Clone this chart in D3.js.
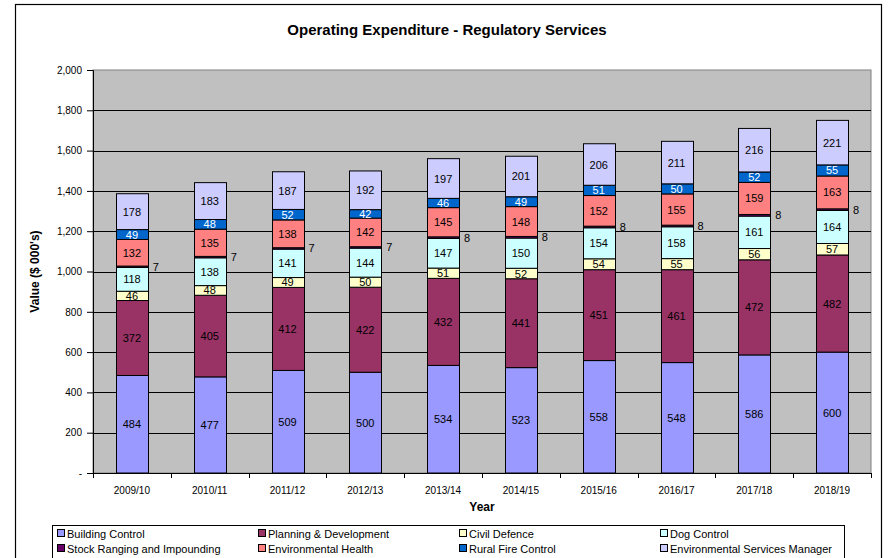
<!DOCTYPE html>
<html>
<head>
<meta charset="utf-8">
<script src="https://cdn.jsdelivr.net/npm/d3@7"></script>
<style>
  body { margin: 0; background: #fff; }
  svg text { font-family: "Liberation Sans", Arial, sans-serif; }
</style>
</head>
<body>
<div id="chart"></div>
<script>
const years = ["2009/10", "2010/11", "2011/12", "2012/13", "2013/14",
  "2014/15", "2015/16", "2016/17", "2017/18", "2018/19"];

const seriesNames = [
  "Building Control", "Planning & Development", "Civil Defence", "Dog Control",
  "Stock Ranging and Impounding", "Environmental Health", "Rural Fire Control",
  "Environmental Services Manager"
];

const buildingControl = [484, 477, 509, 500, 534, 523, 558, 548, 586, 600];
const planningDev = [372, 405, 412, 422, 432, 441, 451, 461, 472, 482];
const civilDefence = [46, 48, 49, 50, 51, 52, 54, 55, 56, 57];
const dogControl = [118, 138, 141, 144, 147, 150, 154, 158, 161, 164];
const stockRanging = [7, 7, 7, 7, 8, 8, 8, 8, 8, 8];
const envHealth = [132, 135, 138, 142, 145, 148, 152, 155, 159, 163];
const ruralFire = [49, 48, 52, 42, 46, 49, 51, 50, 52, 55];
const envManager = [178, 183, 187, 192, 197, 201, 206, 211, 216, 221];

const yTicks = [0, 200, 400, 600, 800, 1000, 1200, 1400, 1600, 1800, 2000];

const seriesValues = [buildingControl, planningDev, civilDefence, dogControl,
  stockRanging, envHealth, ruralFire, envManager];
const colors = ["#9999FF", "#993366", "#FFFFCC", "#CCFFFF",
  "#660066", "#FF8080", "#0066CC", "#CCCCFF"];
const labelColors = ["#000", "#000", "#000", "#000", "#000", "#000", "#fff", "#000"];

// build rows for d3.stack
const table = years.map((yr, i) => {
  const row = { year: yr };
  seriesNames.forEach((s, j) => { row[s] = seriesValues[j][i]; });
  return row;
});

const W = 888, H = 558;
const plot = { left: 93, right: 871, top: 70, bottom: 473 };

const svg = d3.select("#chart").append("svg")
  .attr("width", W).attr("height", H);

// outer chart border
svg.append("rect")
  .attr("x", 15.5).attr("y", 4.5)
  .attr("width", 866).attr("height", 570)
  .attr("fill", "#fff").attr("stroke", "#000").attr("stroke-width", 1.2);

svg.append("text")
  .attr("x", 447).attr("y", 35)
  .attr("text-anchor", "middle")
  .style("font-size", "15px").style("font-weight", "bold")
  .text("Operating Expenditure - Regulatory Services");

const x = d3.scaleBand().domain(years)
  .range([plot.left, plot.right]).paddingInner(0.59).paddingOuter(0.295);
const y = d3.scaleLinear().domain([0, 2000]).range([plot.bottom, plot.top]);

// plot background
svg.append("rect")
  .attr("x", plot.left).attr("y", plot.top)
  .attr("width", plot.right - plot.left).attr("height", plot.bottom - plot.top)
  .attr("fill", "#C0C0C0").attr("stroke", "#808080");

// gridlines
svg.append("g").selectAll("line")
  .data(yTicks.filter(d => d > 0 && d < 2000))
  .join("line")
  .attr("x1", plot.left).attr("x2", plot.right)
  .attr("y1", d => Math.round(y(d)) + 0.5).attr("y2", d => Math.round(y(d)) + 0.5)
  .attr("stroke", "#000").attr("stroke-width", 1);

// y axis
const yAxis = svg.append("g")
  .attr("transform", `translate(${plot.left},0)`)
  .call(d3.axisLeft(y).tickValues(yTicks).tickSize(6).tickPadding(5)
    .tickFormat(d => d === 0 ? "-" : d3.format(",")(d)));
yAxis.select(".domain").attr("stroke", "#000");
yAxis.selectAll("text").style("font-size", "10px").attr("fill", "#000");

svg.append("text")
  .attr("transform", `translate(39,${(plot.top + plot.bottom) / 2}) rotate(-90)`)
  .attr("text-anchor", "middle")
  .style("font-size", "12px").style("font-weight", "bold")
  .text("Value ($ 000's)");

// x axis with ticks between categories
const step = x.step();
const xAxisG = svg.append("g").attr("transform", `translate(0,${plot.bottom})`);
xAxisG.append("line")
  .attr("x1", plot.left).attr("x2", plot.right)
  .attr("y1", 0.5).attr("y2", 0.5).attr("stroke", "#000");
xAxisG.selectAll("line.tick")
  .data(d3.range(years.length + 1))
  .join("line").attr("class", "tick")
  .attr("x1", i => Math.round(plot.left + i * step) + 0.5)
  .attr("x2", i => Math.round(plot.left + i * step) + 0.5)
  .attr("y1", 0).attr("y2", 5).attr("stroke", "#000");
xAxisG.selectAll("text")
  .data(years)
  .join("text")
  .attr("x", d => x(d) + x.bandwidth() / 2)
  .attr("y", 21)
  .attr("text-anchor", "middle")
  .style("font-size", "10px")
  .text(d => d);

svg.append("text")
  .attr("x", (plot.left + plot.right) / 2).attr("y", 511)
  .attr("text-anchor", "middle")
  .style("font-size", "12px").style("font-weight", "bold")
  .text("Year");

// stacked bars
const stacked = d3.stack().keys(seriesNames)(table);

const groups = svg.append("g").selectAll("g")
  .data(stacked)
  .join("g")
  .attr("fill", (d, i) => colors[i]);

groups.selectAll("rect")
  .data(d => d)
  .join("rect")
  .attr("x", d => Math.round(x(d.data.year)) + 0.5)
  .attr("y", d => y(d[1]))
  .attr("width", Math.round(x.bandwidth()))
  .attr("height", d => y(d[0]) - y(d[1]))
  .attr("stroke", "#000").attr("stroke-width", 1);

// value labels
stacked.forEach((layer, i) => {
  const isSmall = seriesNames[i] === "Stock Ranging and Impounding";
  svg.append("g").selectAll("text")
    .data(layer)
    .join("text")
    .attr("x", d => isSmall ? x(d.data.year) + x.bandwidth() + 5
                            : x(d.data.year) + x.bandwidth() / 2)
    .attr("y", d => y((d[0] + d[1]) / 2) + 4)
    .attr("text-anchor", isSmall ? "start" : "middle")
    .attr("fill", labelColors[i])
    .style("font-size", "11px")
    .text(d => d[1] - d[0]);
});

// legend
const legend = svg.append("g");
legend.append("rect")
  .attr("x", 52.5).attr("y", 525.5)
  .attr("width", 792).attr("height", 60)
  .attr("fill", "#fff").attr("stroke", "#000");

const colX = [57, 258, 459, 660];
const rowY = [534, 549];
const items = legend.selectAll("g.item")
  .data(seriesNames)
  .join("g").attr("class", "item")
  .attr("transform", (d, i) => `translate(${colX[i % 4]},${rowY[Math.floor(i / 4)]})`);
items.append("rect")
  .attr("x", 0.5).attr("y", -4.5)
  .attr("width", 7).attr("height", 7)
  .attr("fill", (d, i) => colors[i]).attr("stroke", "#000");
items.append("text")
  .attr("x", 10).attr("y", 3.5)
  .style("font-size", "11px")
  .text(d => d);
</script>
</body>
</html>
